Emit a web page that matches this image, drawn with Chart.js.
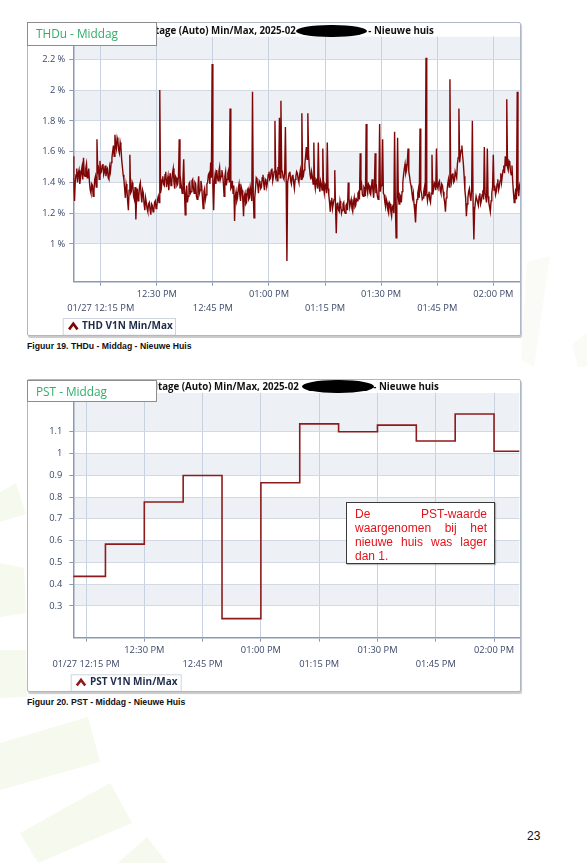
<!DOCTYPE html>
<html>
<head>
<meta charset="utf-8">
<title>THDu / PST - Middag - Nieuwe huis</title>
<script src="https://cdn.jsdelivr.net/npm/chart.js@4.4.1/dist/chart.umd.min.js"></script>
<style>
html, body { margin: 0; padding: 0; background: #fff; }
#page { position: relative; width: 587px; height: 863px; overflow: hidden; font-family: "Open Sans", sans-serif; }
#wm { position: absolute; left: 0; top: 0; }
.frame { position: absolute; left: 27px; width: 492px; border: 1px solid #aeb7c7; border-radius: 2px; background: #fff; box-shadow: 1px 2px 1px #c9c9c9; }
.frame canvas { display: block; }
.ctitle { position: absolute; font-weight: bold; font-size: 9.7px; line-height: 12px; color: #111; white-space: nowrap; }
.blob { position: absolute; background: #000; border-radius: 50%; }
.tag { position: absolute; left: 27px; width: 130px; background: #fff; border: 1px solid #8d8d8d; box-sizing: border-box; color: #2eae68; font-size: 11.8px; padding-left: 8px; white-space: nowrap; }
.caption { position: absolute; left: 27px; font-family: "Liberation Sans", Arial, sans-serif; font-weight: bold; font-size: 8.7px; line-height: 10px; color: #111; white-space: nowrap; }
.note { position: absolute; left: 346px; top: 502px; width: 149px; height: 62px; box-sizing: border-box; border: 1px solid #3a3a3a; background: #fff; box-shadow: 1px 1px 1px rgba(0,0,0,.25); padding: 4px 7px 0 8px; font-family: "Liberation Sans", Arial, sans-serif; font-size: 12px; line-height: 14.1px; color: #e3141b; }
.note div { text-align: justify; text-align-last: justify; white-space: nowrap; }
.note div.last { text-align-last: left; }
#pageno { position: absolute; left: 527px; top: 829px; font-family: "Liberation Sans", Arial, sans-serif; font-size: 12px; color: #111; }
</style>
</head>
<body>
<div id="page">

<svg id="wm" width="587" height="863">
  <g fill="#f6f9ee">
    <polygon points="0,492 16,483 26,514 0,522"/>
    <polygon points="0,563 24,568 26,613 0,617"/>
    <polygon points="0,650 26,650 27,697 0,698"/>
    <polygon points="0,743 88,717 100,762 0,790"/>
    <polygon points="20,833 110,783 132,823 38,863"/>
    <polygon points="118,863 147,837 167,863"/>
  </g>
  <g fill="#fafbf7">
    <polygon points="527,262 550,256 534,367 521,360"/>
    <polygon points="572,345 587,332 587,367 578,367"/>
  </g>
</svg>

<div class="frame" style="top:22px; height:312px;"><canvas id="thd-chart"></canvas></div>
<div class="ctitle" style="left:155px; top:24.7px;">tage (Auto) Min/Max, 2025-02</div>
<div class="blob" style="left:296px; top:24.5px; width:71px; height:12.5px;"></div>
<div class="ctitle" style="left:368.3px; top:24.7px;">- Nieuwe huis</div>
<div class="tag" style="top:22.3px; height:23.4px; line-height:21.4px;">THDu - Middag</div>
<div class="caption" style="top:341px;">Figuur 19. THDu - Middag - Nieuwe Huis</div>

<div class="frame" style="top:379px; height:311px;"><canvas id="pst-chart"></canvas></div>
<div class="ctitle" style="left:155px; top:380.7px;">ltage (Auto) Min/Max, 2025-02</div>
<div class="blob" style="left:302px; top:379.8px; width:72px; height:13.5px;"></div>
<div class="ctitle" style="left:373.3px; top:380.7px;">- Nieuwe huis</div>
<div class="tag" style="top:379.7px; height:22.6px; line-height:20.6px;">PST - Middag</div>
<div class="note">
  <div>De PST-waarde</div>
  <div>waargenomen bij het</div>
  <div>nieuwe huis was lager</div>
  <div class="last">dan 1.</div>
</div>
<div class="caption" style="top:696.7px;">Figuur 20. PST - Middag - Nieuwe Huis</div>

<div id="pageno">23</div>
</div>

<script>
// minutes after 12:00 on 01/27
const tickMinutes = [15, 30, 45, 60, 75, 90, 105, 120]
const tickLabels = ['01/27 12:15 PM', '12:30 PM', '12:45 PM', '01:00 PM', '01:15 PM', '01:30 PM', '01:45 PM', '02:00 PM']

// THD V1N in %, one reading every 0.2 min from 12:07.6
// thdEven = readings at 12:07.6, 12:08.0, ...   thdOdd = readings 0.2 min later
const thdStart = 7.6
const thdStep = 0.4
const thdEven = [
  1.57, 1.28, 1.45, 1.40, 1.48, 1.43, 1.50, 1.56, 1.44, 1.52,
  1.45, 1.40, 1.33, 1.38, 1.35, 1.44, 1.68, 1.49, 1.54, 1.47,
  1.52, 1.47, 1.44, 1.49, 1.42, 1.47, 1.56, 1.64, 1.71, 1.62,
  1.67, 1.59, 1.63, 1.50, 1.42, 1.30, 1.36, 1.22, 1.58, 1.34,
  1.38, 1.29, 1.16, 1.36, 1.31, 1.40, 1.27, 1.33, 1.22, 1.27,
  1.21, 1.27, 1.19, 1.25, 1.22, 1.28, 1.24, 1.31, 2.00, 1.36,
  1.44, 1.38, 1.47, 1.41, 1.35, 1.46, 1.40, 1.49, 1.36, 1.43,
  1.39, 1.68, 1.41, 1.33, 1.55, 1.19, 1.38, 1.31, 1.40, 1.34,
  1.42, 1.33, 1.39, 1.29, 1.44, 1.35, 1.38, 1.23, 1.36, 1.32,
  1.40, 1.46, 1.53, 2.17, 1.22, 1.45, 1.48, 1.41, 1.50, 1.44,
  1.45, 1.31, 1.47, 1.42, 1.48, 1.88, 1.37, 1.33, 1.15, 1.34,
  1.30, 1.39, 1.28, 1.35, 1.18, 1.33, 1.27, 1.36, 1.30, 1.34,
  1.99, 1.17, 1.36, 1.42, 1.33, 1.40, 1.37, 1.45, 1.35, 1.41,
  1.40, 1.47, 1.43, 1.49, 1.44, 1.80, 1.46, 1.50, 1.82, 1.93,
  1.47, 1.42, 1.76, 0.89, 1.43, 1.47, 1.39, 1.45, 1.36, 1.44,
  1.46, 1.40, 1.48, 1.85, 1.44, 1.52, 1.63, 1.85, 1.50, 1.42,
  1.44, 1.66, 1.36, 1.41, 1.66, 1.34, 1.39, 1.62, 1.33, 1.38,
  1.66, 1.32, 1.21, 1.30, 1.26, 1.48, 1.07, 1.27, 1.21, 1.25,
  1.22, 1.27, 1.20, 1.26, 1.40, 1.24, 1.29, 1.21, 1.30, 1.25,
  1.28, 1.34, 1.59, 1.38, 1.31, 1.36, 1.78, 1.33, 1.38, 1.32,
  1.42, 1.30, 1.59, 1.36, 1.29, 1.78, 1.38, 1.68, 1.32, 1.24,
  1.27, 1.20, 1.26, 1.18, 1.25, 1.73, 1.04, 1.69, 1.26, 1.31,
  1.34, 1.45, 1.52, 1.48, 1.62, 1.44, 1.38, 1.30, 1.26, 1.14,
  1.29, 1.36, 1.75, 1.33, 1.30, 1.37, 2.21, 1.28, 1.34, 1.27,
  1.58, 1.35, 1.39, 1.62, 1.36, 1.41, 1.33, 1.38, 1.30, 1.21,
  1.34, 1.42, 2.07, 1.40, 1.46, 1.41, 1.47, 1.52, 1.88, 1.58,
  1.64, 1.52, 1.35, 1.18, 1.30, 1.36, 1.28, 1.80, 1.03, 1.27,
  1.31, 1.25, 1.33, 1.28, 1.35, 1.63, 1.30, 1.62, 1.27, 1.21,
  1.33, 1.58, 1.38, 1.34, 1.42, 1.37, 1.46, 1.44, 1.51, 1.57,
  1.94, 1.48, 1.53, 1.45, 1.40, 1.27, 1.36, 1.99, 1.31, 1.36
]
const thdOdd = [
  1.36, 1.41, 1.49, 1.46, 1.39, 1.47, 1.42, 1.45, 1.49, 1.43,
  1.49, 1.35, 1.39, 1.31, 1.42, 1.37, 1.47, 1.42, 1.46, 1.51,
  1.45, 1.51, 1.48, 1.43, 1.50, 1.53, 1.60, 1.57, 1.65, 1.69,
  1.61, 1.66, 1.55, 1.45, 1.36, 1.39, 1.28, 1.35, 1.33, 1.40,
  1.31, 1.37, 1.30, 1.28, 1.38, 1.32, 1.35, 1.26, 1.30, 1.23,
  1.26, 1.22, 1.26, 1.21, 1.27, 1.23, 1.29, 1.27, 1.33, 1.42,
  1.39, 1.45, 1.37, 1.44, 1.42, 1.38, 1.46, 1.40, 1.44, 1.38,
  1.44, 1.36, 1.37, 1.42, 1.34, 1.33, 1.27, 1.39, 1.33, 1.41,
  1.36, 1.40, 1.31, 1.37, 1.33, 1.41, 1.30, 1.34, 1.29, 1.39,
  1.45, 1.39, 1.43, 1.37, 1.41, 1.39, 1.44, 1.47, 1.42, 1.48,
  1.40, 1.44, 1.38, 1.46, 1.40, 1.36, 1.41, 1.38, 1.31, 1.28,
  1.36, 1.32, 1.37, 1.29, 1.31, 1.26, 1.35, 1.29, 1.37, 1.28,
  1.32, 1.30, 1.43, 1.38, 1.41, 1.36, 1.43, 1.39, 1.42, 1.37,
  1.45, 1.42, 1.48, 1.41, 1.47, 1.44, 1.41, 1.45, 1.43, 1.48,
  1.43, 1.46, 1.41, 1.40, 1.46, 1.41, 1.44, 1.40, 1.42, 1.47,
  1.42, 1.45, 1.42, 1.43, 1.48, 1.57, 1.55, 1.58, 1.45, 1.47,
  1.39, 1.40, 1.42, 1.36, 1.38, 1.41, 1.35, 1.37, 1.39, 1.33,
  1.36, 1.27, 1.28, 1.23, 1.29, 1.24, 1.26, 1.22, 1.28, 1.20,
  1.26, 1.21, 1.25, 1.22, 1.30, 1.27, 1.23, 1.27, 1.24, 1.29,
  1.33, 1.29, 1.35, 1.32, 1.37, 1.31, 1.36, 1.39, 1.33, 1.37,
  1.35, 1.38, 1.33, 1.31, 1.37, 1.34, 1.43, 1.33, 1.27, 1.29,
  1.22, 1.27, 1.21, 1.24, 1.20, 1.27, 1.24, 1.30, 1.32, 1.27,
  1.40, 1.49, 1.46, 1.53, 1.47, 1.40, 1.34, 1.33, 1.21, 1.25,
  1.33, 1.30, 1.35, 1.29, 1.34, 1.31, 1.33, 1.32, 1.29, 1.33,
  1.32, 1.40, 1.35, 1.37, 1.40, 1.35, 1.39, 1.34, 1.27, 1.30,
  1.39, 1.37, 1.43, 1.45, 1.40, 1.47, 1.43, 1.56, 1.53, 1.61,
  1.57, 1.44, 1.30, 1.26, 1.34, 1.31, 1.35, 1.24, 1.22, 1.31,
  1.27, 1.31, 1.26, 1.32, 1.29, 1.33, 1.27, 1.31, 1.24, 1.28,
  1.37, 1.35, 1.32, 1.39, 1.35, 1.41, 1.40, 1.48, 1.46, 1.51,
  1.50, 1.54, 1.47, 1.51, 1.33, 1.31, 1.29, 1.35, 1.38, 1.33
]
const thdTicksY = [1, 1.2, 1.4, 1.6, 1.8, 2, 2.2]

// PST V1N, 10 minute values (last one held to the end of the window)
const pstTimes = [10, 20, 30, 40, 50, 60, 70, 80, 90, 100, 110, 120, 130]
const pstValues = [0.436, 0.584, 0.777, 0.899, 0.242, 0.866, 1.136, 1.100, 1.130, 1.057, 1.181, 1.010, 1.010]
const pstTicksY = [0.3, 0.4, 0.5, 0.6, 0.7, 0.8, 0.9, 1, 1.1]

Chart.defaults.font.family = '"Open Sans", sans-serif'

const axisColor = '#8d99b0'
const labelColor = '#3b4868'

// alternating light bands between the y ticks
const bandPlugin = {
    id: 'bands',
    beforeDraw(chart){
        const {ctx, chartArea: a} = chart
        const y = chart.scales.y
        const t = y.ticks.map(k => k.value)
        ctx.save()
        ctx.fillStyle = '#edf0f5'
        for(let i = 0; i < t.length; i += 2){
            const top = i + 1 < t.length ? y.getPixelForValue(t[i + 1]) : a.top
            const bottom = y.getPixelForValue(t[i])
            ctx.fillRect(a.left, top, a.right - a.left, bottom - top)
        }
        ctx.restore()
    }
}

// small boxed legend with a caret marker
const boxLegend = {
    id: 'boxLegend',
    afterDraw(chart, args, o){
        const ctx = chart.ctx
        const cy = o.y + o.h / 2
        const cx = o.x + o.caretDx
        ctx.save()
        ctx.strokeStyle = '#cfd5df'
        ctx.lineWidth = 1
        ctx.strokeRect(o.x + 0.5, o.y + 0.5, o.w, o.h)
        ctx.strokeStyle = chart.data.datasets[0].borderColor
        ctx.lineWidth = 2.6
        ctx.beginPath()
        ctx.moveTo(cx - 4.2, cy + 3)
        ctx.lineTo(cx, cy - 2.6)
        ctx.lineTo(cx + 4.2, cy + 3)
        ctx.stroke()
        ctx.fillStyle = '#1f2b4b'
        ctx.font = 'bold 10px "Open Sans"'
        ctx.textBaseline = 'middle'
        ctx.fillText(chart.data.datasets[0].label, o.x + o.textDx, cy)
        ctx.restore()
    }
}

function timeAxis(min, max){
    return {
        type: 'linear',
        min: min,
        max: max,
        afterBuildTicks: s => { s.ticks = tickMinutes.map(v => ({value: v})) },
        afterFit: s => { s.height = 53.3 },
        grid: {color: '#c8d1e0', tickColor: axisColor, tickLength: 4},
        border: {color: axisColor, width: 1.5},
        ticks: {
            autoSkip: false,
            maxRotation: 0,
            padding: 1,
            color: labelColor,
            font: {size: 9.3, lineHeight: 1.58},
            callback: function(v){
                const i = tickMinutes.indexOf(v)
                // labels alternate between two rows
                return i % 2 ? [tickLabels[i]] : ['', tickLabels[i]]
            }
        }
    }
}

function valueAxis(min, max, ticks, fmt, pad){
    return {
        type: 'linear',
        min: min,
        max: max,
        afterBuildTicks: s => { s.ticks = ticks.map(v => ({value: v})) },
        afterFit: s => { s.width = 45.3 },
        grid: {color: '#d3d9e3', tickColor: axisColor, tickLength: 4},
        border: {color: axisColor, width: 1.5},
        ticks: {padding: pad, color: labelColor, font: {size: 9.3}, callback: fmt}
    }
}

function round1(v){
    return Math.round(v * 10) / 10
}

let thdPoints = []
thdEven.forEach((v, i) => {
    const t = thdStart + i * thdStep
    thdPoints.push({x: t, y: v})
    thdPoints.push({x: t + thdStep / 2, y: thdOdd[i]})
})

new Chart(document.getElementById('thd-chart'), {
    type: 'line',
    data: {
        datasets: [{
            label: 'THD V1N Min/Max',
            data: thdPoints,
            borderColor: '#7f0606',
            borderWidth: 1.4,
            pointRadius: 0,
            tension: 0
        }]
    },
    options: {
        responsive: true,
        maintainAspectRatio: false,
        animation: false,
        layout: {padding: {top: 13.7, right: 0, bottom: 0, left: 0}},
        scales: {
            x: timeAxis(7.67, 127.14),
            y: valueAxis(0.755, 2.347, thdTicksY, v => round1(v) + ' %', 4)
        },
        plugins: {
            legend: {display: false},
            tooltip: {enabled: false},
            boxLegend: {x: 34.7, y: 295, w: 112.3, h: 16.7, caretDx: 10.6, textDx: 19.3}
        }
    },
    plugins: [bandPlugin, boxLegend]
})

new Chart(document.getElementById('pst-chart'), {
    type: 'line',
    data: {
        datasets: [{
            label: 'PST V1N Min/Max',
            data: pstTimes.map((t, i) => ({x: t, y: pstValues[i]})),
            borderColor: '#8e1b1b',
            borderWidth: 1.6,
            pointRadius: 0,
            stepped: true
        }]
    },
    options: {
        responsive: true,
        maintainAspectRatio: false,
        animation: false,
        layout: {padding: {top: 13, right: 0.7, bottom: 0, left: 0}},
        scales: {
            x: timeAxis(11.73, 126.5),
            y: valueAxis(0.1545, 1.2776, pstTicksY, v => String(round1(v)), 7)
        },
        plugins: {
            legend: {display: false},
            tooltip: {enabled: false},
            boxLegend: {x: 42.7, y: 294.3, w: 110, h: 16.5, caretDx: 10.3, textDx: 19.3}
        }
    },
    plugins: [bandPlugin, boxLegend]
})
</script>
</body>
</html>
